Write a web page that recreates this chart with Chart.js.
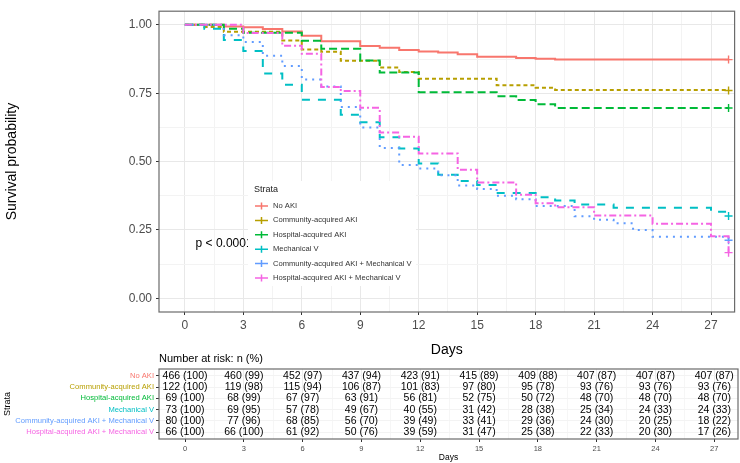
<!DOCTYPE html>
<html>
<head>
<meta charset="utf-8">
<script src="https://cdn.jsdelivr.net/npm/chart.js@4.4.1/dist/chart.umd.min.js"></script>
<style>
  html, body { margin: 0; padding: 0; background: #fff; }
  #wrap { position: relative; width: 740px; height: 463px; overflow: hidden; }
  canvas { position: absolute; left: 0; }
  #survChart { top: 0; }
  #riskChart { top: 348px; }
</style>
</head>
<body>
<div id="wrap">
  <canvas id="survChart" width="740" height="363"></canvas>
  <canvas id="riskChart" width="740" height="115"></canvas>
</div>
<script>
const FONT = '"Liberation Sans", Arial, sans-serif';

/* ---------- data ---------- */
const strata = ['No AKI', 'Community-acquired AKI', 'Hospital-acquired AKI', 'Mechanical V',
  'Community-acquired AKI + Mechanical V', 'Hospital-acquired AKI + Mechanical V'];
const strataColors = ['#F8766D', '#B79F00', '#00BA38', '#00BFC4', '#619CFF', '#F564E3'];
const strataDash = [[], [4, 3], [8, 4], [8, 8], [2, 5], [7, 3, 2, 3]];

// KM steps: day of the drop, survival after it
const noAkiDays = [0, 2, 3, 4, 5, 6, 7, 9, 10, 11, 12, 13, 14, 15, 17, 18, 19, 27.9];
const noAkiSurv = [1, 0.994, 0.991, 0.985, 0.976, 0.960, 0.940, 0.923, 0.916, 0.908, 0.903, 0.899, 0.893, 0.883, 0.879, 0.876, 0.873, 0.873];
const comAkiDays = [0, 1, 2, 5, 6, 7, 8, 10, 11, 12, 16, 18, 19, 27.9];
const comAkiSurv = [1, 0.992, 0.975, 0.943, 0.910, 0.902, 0.869, 0.844, 0.828, 0.803, 0.779, 0.770, 0.762, 0.760];
const hospAkiDays = [0, 2, 3, 6, 7, 9, 10, 12, 16, 17, 18, 19, 27.9];
const hospAkiSurv = [1, 0.986, 0.971, 0.942, 0.913, 0.870, 0.826, 0.754, 0.739, 0.725, 0.710, 0.696, 0.696];
const mechVDays = [0, 1, 2, 3, 4, 5, 6, 8, 9, 10, 11, 12, 13, 14, 15, 16, 18, 19, 20, 22, 27, 27.9];
const mechVSurv = [1, 0.986, 0.945, 0.904, 0.822, 0.781, 0.726, 0.671, 0.644, 0.589, 0.548, 0.493, 0.452, 0.429, 0.414, 0.385, 0.370, 0.358, 0.343, 0.331, 0.317, 0.301];
const comAkiMvDays = [0, 2, 3, 4, 5, 6, 7, 8, 9, 10, 11, 12, 13, 14, 15, 16, 17, 18, 20, 21, 22, 23, 24, 27.9];
const comAkiMvSurv = [1, 0.9625, 0.9375, 0.8875, 0.85, 0.80, 0.775, 0.70, 0.625, 0.55, 0.4875, 0.475, 0.45, 0.4125, 0.40, 0.375, 0.3625, 0.3375, 0.30, 0.2875, 0.275, 0.25, 0.225, 0.2125];
const hospAkiMvDays = [0, 3, 5, 6, 7, 8, 9, 10, 11, 12, 14, 15, 17, 18, 19, 21, 24, 27, 27.9];
const hospAkiMvSurv = [1, 0.970, 0.924, 0.894, 0.773, 0.758, 0.697, 0.606, 0.591, 0.530, 0.470, 0.424, 0.379, 0.348, 0.333, 0.303, 0.273, 0.227, 0.167];

const survDays = [noAkiDays, comAkiDays, hospAkiDays, mechVDays, comAkiMvDays, hospAkiMvDays];
const survVals = [noAkiSurv, comAkiSurv, hospAkiSurv, mechVSurv, comAkiMvSurv, hospAkiMvSurv];

// number at risk table
const riskDays = [0, 3, 6, 9, 12, 15, 18, 21, 24, 27];
const noAkiRisk = [466, 460, 452, 437, 423, 415, 409, 407, 407, 407];
const noAkiPct = [100, 99, 97, 94, 91, 89, 88, 87, 87, 87];
const comAkiRisk = [122, 119, 115, 106, 101, 97, 95, 93, 93, 93];
const comAkiPct = [100, 98, 94, 87, 83, 80, 78, 76, 76, 76];
const hospAkiRisk = [69, 68, 67, 63, 56, 52, 50, 48, 48, 48];
const hospAkiPct = [100, 99, 97, 91, 81, 75, 72, 70, 70, 70];
const mechVRisk = [73, 69, 57, 49, 40, 31, 28, 25, 24, 24];
const mechVPct = [100, 95, 78, 67, 55, 42, 38, 34, 33, 33];
const comAkiMvRisk = [80, 77, 68, 56, 39, 33, 29, 24, 20, 18];
const comAkiMvPct = [100, 96, 85, 70, 49, 41, 36, 30, 25, 22];
const hospAkiMvRisk = [66, 66, 61, 50, 39, 31, 25, 22, 20, 17];
const hospAkiMvPct = [100, 100, 92, 76, 59, 47, 38, 33, 30, 26];
const riskCounts = [noAkiRisk, comAkiRisk, hospAkiRisk, mechVRisk, comAkiMvRisk, hospAkiMvRisk];
const riskPcts = [noAkiPct, comAkiPct, hospAkiPct, mechVPct, comAkiMvPct, hospAkiMvPct];

// axes
const xMajor = [0, 3, 6, 9, 12, 15, 18, 21, 24, 27];
const xTickLabels = ['0', '3', '6', '9', '12', '15', '18', '21', '24', '27'];
const xMinor = [1.5, 4.5, 7.5, 10.5, 13.5, 16.5, 19.5, 22.5, 25.5];
const yMajor = [0, 0.25, 0.5, 0.75, 1];
const yTickLabels = ['0.00', '0.25', '0.50', '0.75', '1.00'];
const yMinor = [0.125, 0.375, 0.625, 0.875];
const xRange = [-1.327, 28.21];

const pValueText = 'p < 0.0001';
const pValueAt = [0.55, 0.2];

/* ---------- helpers ---------- */
const isMinor = (list, v) => list.some(m => Math.abs(m - v) < 1e-9);
const setTicks = (major, minor) => scale => {
  scale.ticks = [...major, ...minor].sort((a, b) => a - b).map(v => ({ value: v }));
};

const borderPlugin = {
  id: 'panelBorder',
  afterDraw(chart) {
    const { ctx, chartArea: a } = chart;
    ctx.save();
    ctx.strokeStyle = '#6b6b6b';
    ctx.lineWidth = 1.2;
    ctx.strokeRect(a.left, a.top, a.right - a.left, a.bottom - a.top);
    ctx.restore();
  }
};

/* ---------- survival chart ---------- */
const legendPlugin = {
  id: 'strataLegend',
  afterDatasetsDraw(chart) {
    const c = chart.ctx;
    const xs = chart.scales.x, ys = chart.scales.y;
    c.save();
    c.textBaseline = 'middle';
    c.textAlign = 'left';
    c.fillStyle = '#000';
    c.font = `12px ${FONT}`;
    c.fillText(pValueText, xs.getPixelForValue(pValueAt[0]), ys.getPixelForValue(pValueAt[1]));

    // legend box sits on top of the p-value, like the original
    c.fillStyle = '#fff';
    c.fillRect(248, 181, 168, 105);
    c.fillStyle = '#1a1a1a';
    c.font = `9px ${FONT}`;
    c.fillText('Strata', 254, 190);
    strata.forEach((name, i) => {
      const y = 206 + i * 14.4;
      c.strokeStyle = strataColors[i];
      c.lineWidth = 1.5;
      c.beginPath();
      c.moveTo(255, y); c.lineTo(268, y);
      c.moveTo(261.5, y - 3.5); c.lineTo(261.5, y + 3.5);
      c.stroke();
      c.fillStyle = '#333';
      c.font = `7.6px ${FONT}`;
      c.fillText(name, 273, y);
    });
    c.restore();
  }
};

new Chart(document.getElementById('survChart'), {
  type: 'line',
  data: {
    datasets: strata.map((name, i) => ({
      label: name,
      data: survDays[i].map((d, j) => ({ x: d, y: survVals[i][j] })),
      borderColor: strataColors[i],
      backgroundColor: strataColors[i],
      borderWidth: 2,
      borderDash: strataDash[i],
      stepped: true,
      fill: false,
      pointStyle: 'cross',
      pointRadius: ctx => ctx.dataIndex === survDays[i].length - 1 ? 4 : 0,
      pointBorderWidth: 1.4,
      pointBorderColor: strataColors[i],
      order: strata.length - i
    }))
  },
  options: {
    responsive: false,
    animation: false,
    events: [],
    layout: { padding: { left: 0, top: 1, right: 2, bottom: 0 } },
    plugins: { legend: { display: false }, tooltip: { enabled: false } },
    scales: {
      x: {
        type: 'linear',
        min: xRange[0], max: xRange[1],
        afterBuildTicks: setTicks(xMajor, xMinor),
        afterFit: s => { s.height = 51; },
        border: { display: false },
        grid: {
          color: c => isMinor(xMinor, c.tick.value) ? '#f3f3f3' : '#e8e8e8',
          tickColor: c => isMinor(xMinor, c.tick.value) ? 'rgba(0,0,0,0)' : '#333',
          tickLength: 3
        },
        ticks: {
          autoSkip: false, maxRotation: 0, padding: 3,
          color: '#4d4d4d', font: { size: 12, family: FONT },
          callback: v => { const k = xMajor.indexOf(v); return k < 0 ? '' : xTickLabels[k]; }
        },
        title: { display: true, text: 'Days', color: '#000', font: { size: 14, family: FONT }, padding: { top: 0, bottom: 4 } }
      },
      y: {
        type: 'linear',
        min: -0.05, max: 1.05,
        afterBuildTicks: setTicks(yMajor, yMinor),
        afterFit: s => { s.width = 159; },
        border: { display: false },
        grid: {
          color: c => isMinor(yMinor, c.tick.value) ? '#f3f3f3' : '#e8e8e8',
          tickColor: c => isMinor(yMinor, c.tick.value) ? 'rgba(0,0,0,0)' : '#333',
          tickLength: 3
        },
        ticks: {
          autoSkip: false, padding: 4,
          color: '#4d4d4d', font: { size: 12, family: FONT },
          callback: v => { const k = yMajor.indexOf(v); return k < 0 ? '' : yTickLabels[k]; }
        },
        title: { display: true, text: 'Survival probability', color: '#000', font: { size: 14, family: FONT }, padding: { top: 4, bottom: 0 } }
      }
    }
  },
  plugins: [legendPlugin, borderPlugin]
});

/* ---------- number at risk table ---------- */
const riskTextPlugin = {
  id: 'riskText',
  afterDatasetsDraw(chart) {
    const c = chart.ctx;
    c.save();
    c.fillStyle = '#000';
    c.textBaseline = 'middle';
    c.textAlign = 'left';
    c.font = `11px ${FONT}`;
    c.fillText('Number at risk: n (%)', chart.chartArea.left, chart.chartArea.top - 10);
    c.textAlign = 'center';
    c.font = `10.5px ${FONT}`;
    chart.data.datasets.forEach((ds, i) => {
      const meta = chart.getDatasetMeta(i);
      meta.data.forEach((pt, j) => {
        c.fillText(`${riskCounts[i][j]} (${riskPcts[i][j]})`, pt.x, pt.y);
      });
    });
    c.restore();
  }
};

new Chart(document.getElementById('riskChart'), {
  type: 'scatter',
  data: {
    datasets: strata.map((name, i) => ({
      label: name,
      data: riskDays.map(d => ({ x: d, y: i + 1 })),
      pointRadius: 0
    }))
  },
  options: {
    responsive: false,
    animation: false,
    events: [],
    layout: { padding: { left: 0, top: 21, right: 2, bottom: 0 } },
    plugins: { legend: { display: false }, tooltip: { enabled: false } },
    scales: {
      x: {
        type: 'linear',
        min: xRange[0], max: xRange[1],
        afterBuildTicks: setTicks(xMajor, xMinor),
        afterFit: s => { s.height = 24; },
        border: { display: false },
        grid: {
          color: c => isMinor(xMinor, c.tick.value) ? '#f6f6f6' : '#ededed',
          tickColor: c => isMinor(xMinor, c.tick.value) ? 'rgba(0,0,0,0)' : '#333',
          tickLength: 3
        },
        ticks: {
          autoSkip: false, maxRotation: 0, padding: 2,
          color: '#4d4d4d', font: { size: 7.5, family: FONT },
          callback: v => { const k = xMajor.indexOf(v); return k < 0 ? '' : xTickLabels[k]; }
        },
        title: { display: true, text: 'Days', color: '#000', font: { size: 8.5, family: FONT }, padding: { top: 0, bottom: 0 } }
      },
      y: {
        type: 'linear',
        min: 0.4, max: 6.6,
        reverse: true,
        afterBuildTicks: s => { s.ticks = strata.map((n, i) => ({ value: i + 1 })); },
        afterFit: s => { s.width = 159; },
        border: { display: false },
        grid: { color: '#f3f3f3', tickColor: '#333', tickLength: 3 },
        ticks: {
          autoSkip: false, padding: 2,
          color: c => strataColors[c.index],
          font: { size: 7.6, family: FONT },
          callback: (v, k) => strata[k]
        },
        title: { display: true, text: 'Strata', color: '#000', font: { size: 9, family: FONT }, padding: { top: 2, bottom: 0 } }
      }
    }
  },
  plugins: [riskTextPlugin, borderPlugin]
});
</script>
</body>
</html>
